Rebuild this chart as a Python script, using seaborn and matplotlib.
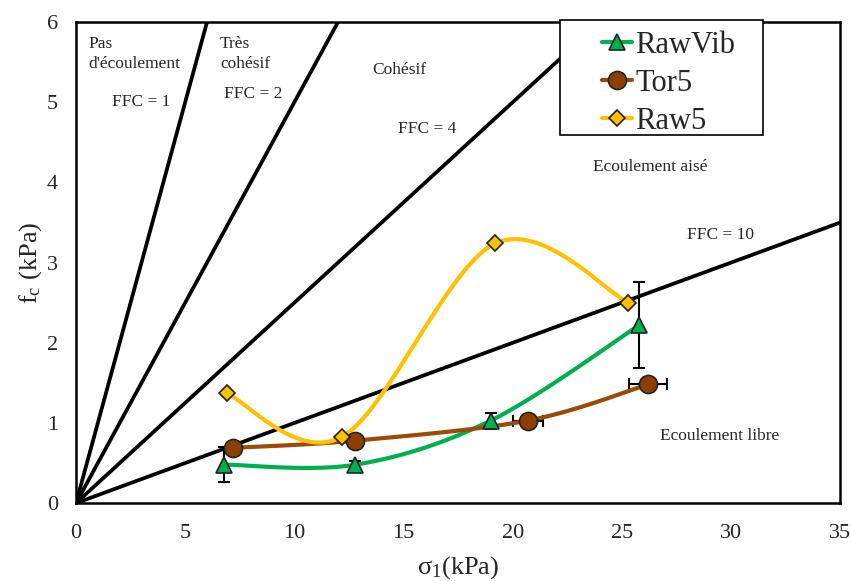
import numpy as np
import pandas as pd
import matplotlib
matplotlib.use('Agg')
import matplotlib.pyplot as plt
from matplotlib.patches import Rectangle
import seaborn as sns

# Données
rawvib_x = [6.8, 12.8, 19.0, 25.8]
rawvib_y = [0.48, 0.48, 1.03, 2.22]
rawvib_yerr = [0.22, 0.05, 0.10, 0.54]

tor5_x = [7.2, 12.8, 20.7, 26.2]
tor5_y = [0.69, 0.78, 1.03, 1.48]
tor5_xerr = [0.1, 0.1, 0.69, 0.85]

raw5_x = [6.9, 12.2, 19.2, 25.3]
raw5_y = [1.37, 0.83, 3.24, 2.50]

ffc_values = [1, 2, 4, 10]

# Zones et étiquettes: (texte, x, y, alignement)
zone_labels = [
    ("Pas\nd'écoulement", 0.55, 5.6, 'left'),
    ("Très\ncohésif", 6.6, 5.6, 'left'),
    ("FFC = 1", 3.0, 5.0, 'center'),
    ("FFC = 2", 8.1, 5.1, 'center'),
    ("Cohésif", 14.8, 5.4, 'center'),
    ("FFC = 4", 16.1, 4.67, 'center'),
    ("Ecoulement aisé", 26.3, 4.19, 'center'),
    ("FFC = 10", 29.5, 3.34, 'center'),
    ("Ecoulement libre", 29.5, 0.84, 'center'),
]

sns.set_style('white')
plt.rcParams['font.family'] = ['Liberation Serif', 'DejaVu Serif']
plt.rcParams['mathtext.fontset'] = 'custom'
plt.rcParams['mathtext.rm'] = 'Liberation Serif'
plt.rcParams['mathtext.it'] = 'Liberation Serif:italic'


def smooth(xs, ys, sx=21.8, sy=80.2, n=40):
    # lissage type Excel (Bezier / Catmull-Rom) en coordonnées écran
    p = np.column_stack([np.array(xs) * sx, np.array(ys) * sy])
    pts = np.vstack([p[0], p, p[-1]])
    out = []
    t = np.linspace(0, 1, n)[:, None]
    for i in range(1, len(pts) - 2):
        p0, p1, p2, p3 = pts[i - 1], pts[i], pts[i + 1], pts[i + 2]
        c1 = p1 + (p2 - p0) / 6
        c2 = p2 - (p3 - p1) / 6
        seg = ((1 - t) ** 3) * p1 + 3 * ((1 - t) ** 2) * t * c1 + 3 * (1 - t) * t ** 2 * c2 + t ** 3 * p2
        out.append(seg)
    out = np.vstack(out)
    return pd.DataFrame({'x': out[:, 0] / sx, 'y': out[:, 1] / sy})


fig = plt.figure(figsize=(8.51, 5.81), dpi=100)
ax = fig.add_axes([0.0893, 0.134, 0.898, 0.828])

# Droites FFC
xx = np.array([0, 35.0])
for ffc in ffc_values:
    sns.lineplot(x=xx, y=xx / ffc, color='black', lw=2.7, ax=ax, zorder=2)

green = '#00B050'
brown = '#9C4A06'
brown_face = '#8B3F00'
yellow = '#FFC000'

series = [
    ('RawVib', rawvib_x, rawvib_y, green, green, '^', 11),
    ('Tor5', tor5_x, tor5_y, brown, brown_face, 'o', 13),
    ('Raw5', raw5_x, raw5_y, yellow, yellow, 'D', 8),
]

# barres d'erreur
ax.errorbar(rawvib_x, rawvib_y, yerr=rawvib_yerr, fmt='none', ecolor='black',
            elinewidth=1.5, capsize=4, capthick=1.5, zorder=3)
ax.errorbar(tor5_x, tor5_y, xerr=tor5_xerr, fmt='none', ecolor='black',
            elinewidth=1.5, capsize=4, capthick=1.5, zorder=3)

handles = []
for name, xs, ys, lc, fc, mk, ms in series:
    df = smooth(xs, ys)
    sns.lineplot(data=df, x='x', y='y', sort=False, color=lc, lw=3, ax=ax, zorder=4)
    ax.plot(xs, ys, ls='none', marker=mk, ms=ms, mfc=fc, mec='#222222', mew=1.2, zorder=5)
    h, = ax.plot([], [], color=lc, lw=3, marker=mk, ms=ms, mfc=fc, mec='#222222', mew=1.2, label=name)
    handles.append(h)

for txt, x, y, ha in zone_labels:
    ax.text(x, y, txt, fontsize=12.5, ha=ha, va='center', linespacing=1.3, zorder=6)

ax.set_xlim(0, 35)
ax.set_ylim(0, 6)
ax.set_xticks(range(0, 36, 5))
ax.set_yticks(range(0, 7))
ax.tick_params(axis='x', direction='in', length=6, width=1.2, labelsize=16, pad=15)
ax.tick_params(axis='y', direction='inout', length=6, width=1.2, labelsize=16, pad=10)
for s in ax.spines.values():
    s.set_color('black')
    s.set_linewidth(1.8)

ax.set_xlabel(r'σ$_1$(kPa)', fontsize=19, labelpad=8)
ax.set_ylabel(r'f$_\mathrm{c}$ (kPa)', fontsize=19, labelpad=2)

# cadre de légende (plus large que le contenu, comme dans l'original)
box = Rectangle((0.634, 0.765), 0.265, 0.239, transform=ax.transAxes, facecolor='white',
                edgecolor='black', lw=1.2, zorder=9, clip_on=False)
ax.add_patch(box)
leg = ax.legend(handles=handles, loc='upper left', bbox_to_anchor=(0.68, 0.995),
                fontsize=22, frameon=False, handlelength=1.0, handletextpad=0.1,
                borderpad=0.2, labelspacing=0.3, borderaxespad=0)
leg.set_zorder(10)

fig.savefig('out.png', dpi=100)
